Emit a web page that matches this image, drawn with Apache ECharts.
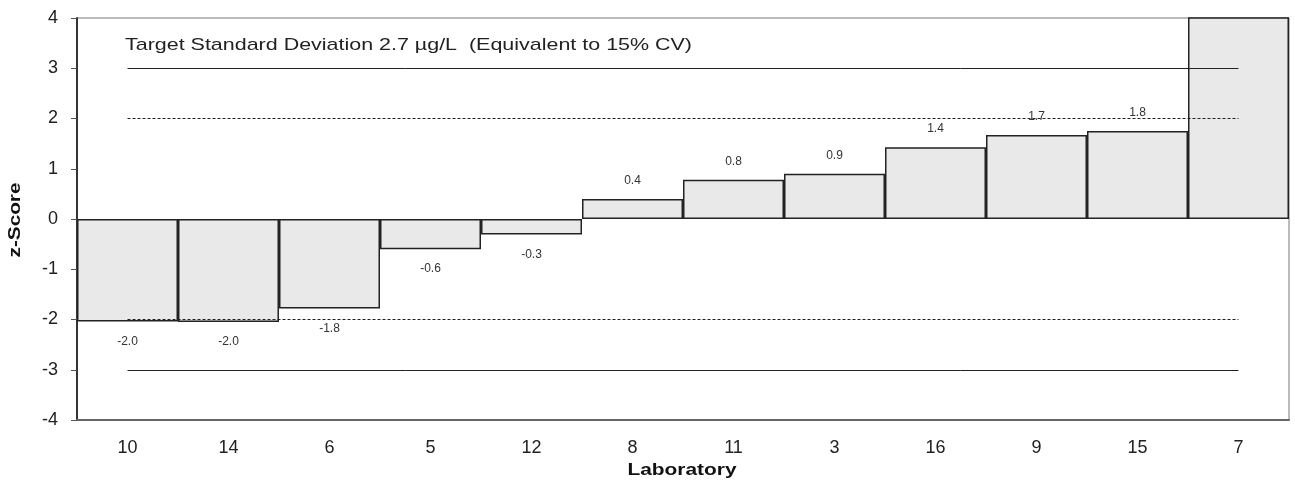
<!DOCTYPE html>
<html>
<head>
<meta charset="utf-8">
<script src="https://cdn.jsdelivr.net/npm/echarts@6/dist/echarts.min.js"></script>
<style>html,body{margin:0;padding:0;background:#fff}#c{width:1295px;height:490px}</style>
</head>
<body>
<div id="c"></div>
<script>
var categories = ['10','14','6','5','12','8','11','3','16','9','15','7'];
var zScores = [-2.04, -2.05, -1.78, -0.60, -0.31, 0.40, 0.78, 0.90, 1.43, 1.67, 1.75, 5.2];
var yTicks = [-4, -3, -2, -1, 0, 1, 2, 3, 4];
var solidLimits = [3, -3];
var dashedLimits = [2, -2];
var titleText = 'Target Standard Deviation 2.7 µg/L  (Equivalent to 15% CV)';
var xAxisName = 'Laboratory';
var yAxisName = 'z-Score';

var FONT = 'Liberation Sans, Arial, sans-serif';
var yMin = yTicks[0], yMax = yTicks[yTicks.length - 1];

var mctx = document.createElement('canvas').getContext('2d');
function stretch(text, font, target) {
  mctx.font = font;
  return target / mctx.measureText(text).width;
}
var titleFont = '17px ' + FONT;
var nameFont = 'bold 16px ' + FONT;

var barData = zScores.map(function (v) {
  return {
    value: v,
    label: {
      show: v <= yMax && v >= yMin,
      position: v < 0 ? 'bottom' : 'top',
      distance: v < 0 ? 14 : 12
    }
  };
});

function limitLines(vals, type) {
  return vals.map(function (v) {
    return [
      { coord: [categories[0], v], lineStyle: { type: type } },
      { coord: [categories[categories.length - 1], v] }
    ];
  });
}

var chart = echarts.init(document.getElementById('c'), null, { renderer: 'canvas' });
chart.setOption({
  animation: false,
  textStyle: { fontFamily: FONT },
  grid: { left: 77, right: 6, top: 18, bottom: 70, show: true, borderColor: '#777', borderWidth: 1 },
  graphic: [{
    type: 'text', x: 125, y: 45, scaleX: stretch(titleText, titleFont, 567),
    style: { text: titleText, font: titleFont, fill: '#222', textVerticalAlign: 'middle', verticalAlign: 'middle' }
  }, {
    type: 'text', x: 682, y: 471, scaleX: stretch(xAxisName, nameFont, 109),
    style: { text: xAxisName, font: nameFont, fill: '#111', align: 'center', verticalAlign: 'middle', textAlign: 'center', textVerticalAlign: 'middle' }
  }, {
    type: 'text', x: 16, y: 220, rotation: Math.PI / 2, scaleX: stretch(yAxisName, nameFont, 75),
    style: { text: yAxisName, font: nameFont, fill: '#111', align: 'center', verticalAlign: 'middle', textAlign: 'center', textVerticalAlign: 'middle' }
  }],
  xAxis: {
    type: 'category',
    data: categories,
    axisLine: { onZero: false, lineStyle: { color: '#666', width: 2 } },
    axisTick: { show: false },
    axisLabel: { fontSize: 18, color: '#222', margin: 19 },
    splitLine: { show: false }
  },
  yAxis: {
    type: 'value',
    min: yMin, max: yMax, interval: 1,
    axisLine: { show: true, lineStyle: { color: '#333', width: 2 } },
    axisTick: { show: true, length: 6, lineStyle: { color: '#555' } },
    axisLabel: { fontSize: 18, color: '#222', margin: 19 },
    splitLine: { show: false }
  },
  series: [{
    type: 'bar',
    data: barData,
    barCategoryGap: 0,
    barGap: 0,
    clip: true,
    itemStyle: { color: '#e9e9e9', borderColor: '#222', borderWidth: 1.5 },
    label: {
      fontSize: 12, color: '#333',
      formatter: function (p) { return p.value.toFixed(1); }
    },
    markLine: {
      silent: true,
      symbol: 'none',
      label: { show: false },
      lineStyle: { color: '#222', width: 1, type: 'solid' },
      data: limitLines(solidLimits, 'solid').concat(limitLines(dashedLimits, [3, 2]))
    }
  }]
});
</script>
</body>
</html>
